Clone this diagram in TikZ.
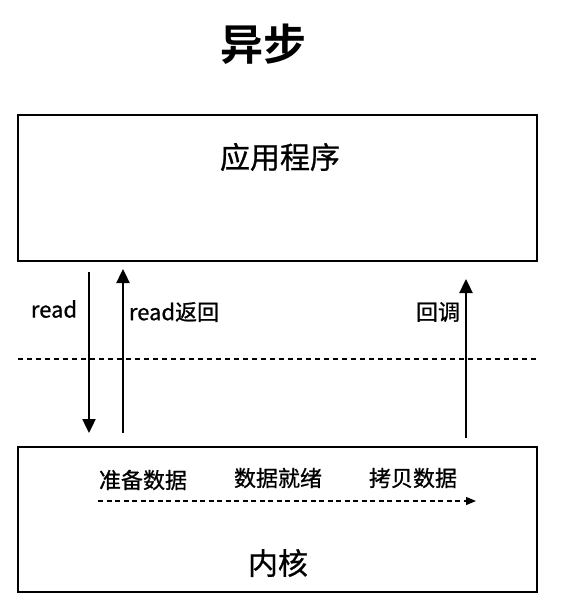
\documentclass[tikz,border=0pt]{standalone}
\usepackage{fontspec}
\newfontfamily\cjk[FakeBold=0.8]{Noto Sans CJK SC}
\newfontfamily\cjkbold{Noto Sans CJK SC Bold}
\usetikzlibrary{arrows.meta}
\begin{document}
\begin{tikzpicture}[x=1pt,y=-1pt,
  panel/.style={draw,line width=2.2pt,inner sep=0pt},
  lbl/.style={font=\cjk\fontsize{22}{26}\selectfont,inner sep=0pt},
  flow/.style={line width=2.4pt,-{Triangle[length=14pt,width=13pt]}},
  divider/.style={line width=1.2pt,dash pattern=on 5pt off 4pt},
  stage/.style={line width=1.2pt,dash pattern=on 5pt off 3.5pt,-{Triangle[length=10pt,width=8pt]}}]
\useasboundingbox (0,0) rectangle (568,608);
% title
\node[font=\cjkbold\fontsize{43}{48}\selectfont,inner sep=0pt] (title) at (263,44) {异步};
% application and kernel panels
\node[panel,minimum width=519pt,minimum height=146pt] (app) at (277.5,188) {};
\node[lbl,font=\cjk\fontsize{30}{34}\selectfont] (apptxt) at (280,157) {应用程序};
\node[panel,minimum width=519pt,minimum height=145pt] (kern) at (277.5,519.5) {};
\node[lbl,font=\cjk\fontsize{30}{34}\selectfont] (kerntxt) at (278,563) {内核};
% user/kernel boundary
\coordinate (dl) at (18,359);
\coordinate (dr) at (537,359);
\draw[divider] (dl) -- (dr);
% read call and its return
\coordinate (r1s) at (89,272);
\coordinate (r1e) at (89,433);
\draw[flow] (r1s) -- (r1e);
\node[lbl] (readtxt) at (54,309) {read};
\coordinate (r2s) at (123,433);
\coordinate (r2e) at (123,269);
\draw[flow] (r2s) -- (r2e);
\node[lbl] (rettxt) at (174,312) {read返回};
% callback
\coordinate (cbs) at (466,438);
\coordinate (cbe) at (466,279);
\draw[flow] (cbs) -- (cbe);
\node[lbl] (cbtxt) at (438,312) {回调};
% kernel stages
\node[lbl] (s1) at (143,480) {准备数据};
\node[lbl] (s2) at (278,478) {数据就绪};
\node[lbl] (s3) at (413,478) {拷贝数据};
\coordinate (ps) at (98,501);
\coordinate (pe) at (476,501);
\draw[stage] (ps) -- (pe);
\end{tikzpicture}
\end{document}
